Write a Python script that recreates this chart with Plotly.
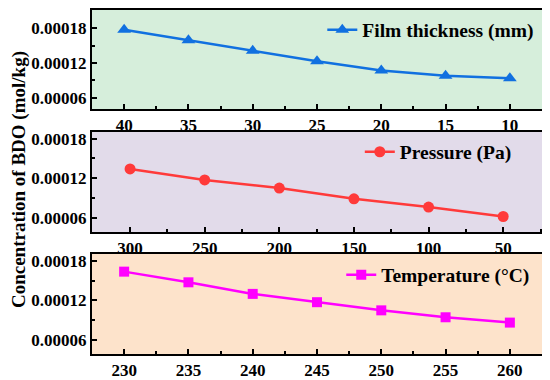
import plotly.graph_objects as go

# Data
thickness = [40, 35, 30, 25, 20, 15, 10]
conc_thickness = [0.000177, 0.000159, 0.000141, 0.000123, 0.000107, 0.0000982, 0.0000937]

pressure = [300, 250, 200, 150, 100, 50]
conc_pressure = [0.000134, 0.0001174, 0.000105, 0.0000887, 0.0000762, 0.0000619]

temperature = [230, 235, 240, 245, 250, 255, 260]
conc_temperature = [0.0001638, 0.0001476, 0.000130, 0.0001174, 0.000105, 0.0000945, 0.0000864]

y_ticks = [0.00006, 0.00012, 0.00018]
y_ticklabels = ["0.00006", "0.00012", "0.00018"]

FONT = "Liberation Serif"
fig = go.Figure()

fig.add_trace(go.Scatter(x=thickness, y=conc_thickness, mode="lines+markers",
                         name="Film thickness (mm)", xaxis="x", yaxis="y", legend="legend",
                         line=dict(color="#1170e0", width=2.5),
                         marker=dict(symbol="triangle-up", size=12, color="#1170e0")))
fig.add_trace(go.Scatter(x=pressure, y=conc_pressure, mode="lines+markers",
                         name="Pressure (Pa)", xaxis="x2", yaxis="y2", legend="legend2",
                         line=dict(color="#ff3a3a", width=2.5),
                         marker=dict(symbol="circle", size=11, color="#ff3a3a")))
fig.add_trace(go.Scatter(x=temperature, y=conc_temperature, mode="lines+markers",
                         name="Temperature (°C)", xaxis="x3", yaxis="y3", legend="legend3",
                         line=dict(color="#ff00ff", width=2.5),
                         marker=dict(symbol="square", size=10, color="#ff00ff")))

tickfont = dict(family=FONT, size=17, color="black", weight="bold")

def xax(rng, dtick, anchor, tickvals):
    return dict(range=rng, anchor=anchor, tickvals=tickvals, showline=True, mirror=True,
                linecolor="black", linewidth=2, ticks="inside", ticklen=5, tickwidth=1.5,
                tickcolor="black", showgrid=False, zeroline=False, tickfont=tickfont,
                minor=dict(ticks="inside", ticklen=3, tickwidth=1.5, tickcolor="black",
                           dtick=dtick / 2, tick0=tickvals[0]))

def yax(rng, domain, anchor):
    return dict(range=rng, domain=domain, anchor=anchor, tickvals=y_ticks, ticktext=y_ticklabels,
                showline=True, mirror=True, linecolor="black", linewidth=2, ticks="inside",
                ticklen=5, tickwidth=1.5, tickcolor="black", showgrid=False, zeroline=False,
                tickfont=tickfont,
                minor=dict(ticks="inside", ticklen=3, tickwidth=1.5, tickcolor="black",
                           tickvals=[0.00009, 0.00015]))

# page body has an 8px default margin, so the figure is 8px smaller and margins compensate
fig.update_layout(
    width=542, height=372,
    margin=dict(l=84, r=8, t=2, b=26, autoexpand=False),
    paper_bgcolor="white", plot_bgcolor="rgba(0,0,0,0)",
    xaxis=xax([42.5, 7.5], 5, "y", thickness),
    yaxis=yax([0.000041, 0.000211], [0.7122, 1.0], "x"),
    xaxis2=xax([325.5, 24], 50, "y2", pressure),
    yaxis2=yax([0.0000384, 0.00019], [0.3547, 0.6453], "x2"),
    xaxis3=xax([227.5, 262.5], 5, "y3", temperature),
    yaxis3=yax([0.0000387, 0.0001906], [0.0, 0.2907], "x3"),
    showlegend=True,
)

legfont = dict(family=FONT, size=19.5, color="black", weight="bold")
fig.update_layout(
    legend=dict(x=0.994, y=0.942, xanchor="right", yanchor="middle", bgcolor="rgba(0,0,0,0)",
                font=legfont, itemwidth=30),
    legend2=dict(x=0.944, y=0.587, xanchor="right", yanchor="middle", bgcolor="rgba(0,0,0,0)",
                 font=legfont, itemwidth=30),
    legend3=dict(x=0.985, y=0.2297, xanchor="right", yanchor="middle", bgcolor="rgba(0,0,0,0)",
                 font=legfont, itemwidth=30),
)

bgs = [("x", "y", "#d6eedb"), ("x2", "y2", "#e2dbea"), ("x3", "y3", "#fde3cb")]
for xr, yr, c in bgs:
    fig.add_shape(type="rect", xref=f"{xr} domain", yref=f"{yr} domain", x0=0, x1=1, y0=0, y1=1,
                  fillcolor=c, line=dict(width=0), layer="below")

fig.add_annotation(text="Concentration of BDO (mol/kg)", xref="paper", yref="paper",
                   x=-0.162, y=0.506, xanchor="center", yanchor="middle",
                   textangle=-90, showarrow=False,
                   font=dict(family=FONT, size=19, color="black", weight="bold"))

fig.write_html("out.html")
